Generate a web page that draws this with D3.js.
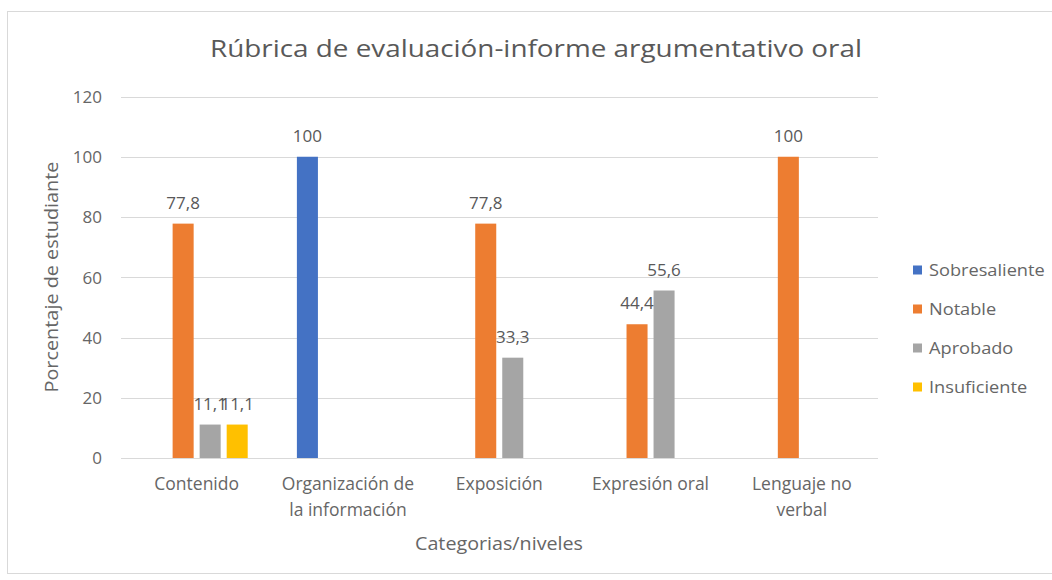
<!DOCTYPE html>
<html><head><meta charset="utf-8">
<script src="https://cdn.jsdelivr.net/npm/d3@7"></script>
<style>body{margin:0;background:#fff}svg{display:block;font-family:"Open Sans",sans-serif}</style>
</head><body><svg id="c" width="1052" height="580"></svg>
<script>
const categories = [["Contenido"], ["Organización de", "la información"], ["Exposición"], ["Expresión oral"], ["Lenguaje no", "verbal"]];
const seriesNames = ["Sobresaliente", "Notable", "Aprobado", "Insuficiente"];
const sobresaliente = [null, 100, null, null, null];
const notable = [77.8, null, 77.8, 44.4, 100];
const aprobado = [11.1, null, 33.3, 55.6, null];
const insuficiente = [11.1, null, null, null, null];
const colors = ["#4472C4", "#ED7D31", "#A5A5A5", "#FFC000"];
const yTicks = [0, 20, 40, 60, 80, 100, 120];

const seriesVals = [sobresaliente, notable, aprobado, insuficiente];
const catKeys = categories.map(c => c.join(" "));
const svg = d3.select("#c");
const txt = "#666666";

function stretch(sel, f) {
  sel.each(function() {
    const w = this.getComputedTextLength();
    d3.select(this).attr("textLength", w * f).attr("lengthAdjust", "spacingAndGlyphs");
  });
}

svg.append("rect").attr("x", 7.5).attr("y", 11.5).attr("width", 1060).attr("height", 562)
  .attr("fill", "#fff").attr("stroke", "#d9d9d9");

const y = d3.scaleLinear().domain([0, 120]).range([458, 96.5]);
const x0 = d3.scaleBand().domain(catKeys).range([121, 877.5]).paddingInner(0).paddingOuter(0);
const x1 = d3.scaleBand().domain(seriesNames).range([0, x0.bandwidth()]).paddingInner(0.222).paddingOuter(0.91);

// gridlines
svg.append("g").selectAll("line").data(yTicks).join("line")
  .attr("x1", 121).attr("x2", 878).attr("y1", d => Math.round(y(d)) + 0.5).attr("y2", d => Math.round(y(d)) + 0.5)
  .attr("stroke", "#d9d9d9").attr("stroke-width", 1);

// y axis labels
const yAxis = d3.axisLeft(y).tickValues(yTicks).tickSize(0).tickPadding(0);
const ya = svg.append("g").attr("transform", "translate(102,0)").call(yAxis);
ya.select(".domain").remove();
ya.selectAll("text").attr("font-size", 17).attr("fill", txt).attr("font-family", "Open Sans").attr("dy", "0.35em");

// bars
const data = [];
seriesVals.forEach((arr, si) => arr.forEach((v, ci) => { if (v != null) data.push({s: seriesNames[si], c: catKeys[ci], v, si}); }));
svg.append("g").selectAll("rect").data(data).join("rect")
  .attr("x", d => x0(d.c) + x1(d.s)).attr("width", x1.bandwidth())
  .attr("y", d => y(d.v)).attr("height", d => y(0) - y(d.v))
  .attr("fill", d => colors[d.si]);

// value labels
svg.append("g").selectAll("text").data(data).join("text")
  .attr("x", d => x0(d.c) + x1(d.s) + x1.bandwidth() / 2)
  .attr("y", d => y(d.v) - 15)
  .attr("text-anchor", "middle").attr("font-size", 17).attr("fill", "#595959")
  .text(d => String(d.v).replace(".", ","));

// x axis labels
const xl = svg.append("g").selectAll("text").data(categories).join("text")
  .attr("x", (d, i) => x0(catKeys[i]) + x0.bandwidth() / 2)
  .attr("y", 490).attr("text-anchor", "middle").attr("font-size", 17.5).attr("fill", txt);
xl.selectAll("tspan").data(d => d).join("tspan")
  .attr("x", function() { return this.parentNode.getAttribute("x"); })
  .attr("dy", (d, i) => i === 0 ? 0 : 26).text(d => d);

// axis titles
svg.append("text").attr("x", 499).attr("y", 550).attr("text-anchor", "middle")
  .attr("font-size", 18).attr("fill", txt).attr("textLength", 168).attr("lengthAdjust", "spacingAndGlyphs")
  .text("Categorias/niveles");
svg.append("text").attr("transform", "translate(58,277) rotate(-90)").attr("text-anchor", "middle")
  .attr("font-size", 18).attr("fill", txt).attr("textLength", 231).attr("lengthAdjust", "spacingAndGlyphs")
  .text("Porcentaje de estudiante");

// title
svg.append("text").attr("x", 536).attr("y", 57).attr("text-anchor", "middle")
  .attr("font-size", 24).attr("fill", "#595959")
  .attr("textLength", 652).attr("lengthAdjust", "spacingAndGlyphs")
  .text("Rúbrica de evaluación-informe argumentativo oral");

// legend
const lg = svg.append("g").selectAll("g").data(seriesNames).join("g")
  .attr("transform", (d, i) => `translate(913,${270 + i * 39})`);
lg.append("rect").attr("x", 0).attr("y", -4.5).attr("width", 9).attr("height", 9).attr("fill", (d, i) => colors[i]);
lg.append("text").attr("x", 16).attr("dy", "0.35em").attr("font-size", 17).attr("fill", txt).text(d => d)
  .call(stretch, 1.07);
</script></body></html>
